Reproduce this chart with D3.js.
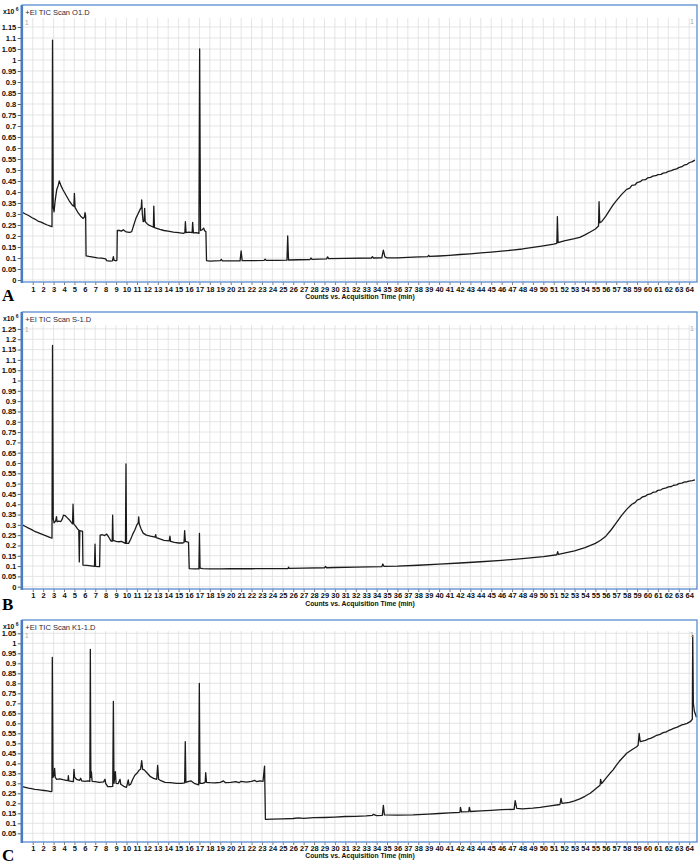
<!DOCTYPE html>
<html><head><meta charset="utf-8">
<script src="https://cdn.jsdelivr.net/npm/d3@7"></script>
<style>
html,body{margin:0;padding:0;background:#fff;}
svg{display:block;}
.tick-lbl{font-family:"Liberation Sans Narrow","Arial Narrow","Liberation Sans",Arial,sans-serif;font-weight:bold;font-size:7.5px;fill:#111;}
.title{font-family:"Liberation Sans",Arial,sans-serif;font-size:7.5px;fill:#2a2a3a;}
.axt{font-family:"Liberation Sans Narrow","Arial Narrow","Liberation Sans",Arial,sans-serif;font-weight:bold;font-size:6.8px;fill:#111;}
.letter{font-family:"Liberation Serif","DejaVu Serif",serif;font-weight:bold;font-size:17px;fill:#000;}
.mult{font-family:"Liberation Sans Narrow","Arial Narrow","Liberation Sans",Arial,sans-serif;font-weight:bold;font-size:6.8px;fill:#111;}
</style>
</head><body>
<svg id="c" width="700" height="867"></svg>
<script>
// ---------- DATA ----------
const titles = ["+EI TIC Scan O1.D", "+EI TIC Scan S-1.D", "+EI TIC Scan K1-1.D"];
const panelLetters = ["A", "B", "C"];
const xAxisTitle = "Counts vs. Acquisition Time (min)";
const xTickLabels = d3.range(1, 65);
const yTicksA = [0,0.05,0.1,0.15,0.2,0.25,0.3,0.35,0.4,0.45,0.5,0.55,0.6,0.65,0.7,0.75,0.8,0.85,0.9,0.95,1,1.05,1.1,1.15];
const yTicksB = [0,0.05,0.1,0.15,0.2,0.25,0.3,0.35,0.4,0.45,0.5,0.55,0.6,0.65,0.7,0.75,0.8,0.85,0.9,0.95,1,1.05,1.1,1.15,1.2,1.25];
const yTicksC = [0.05,0.1,0.15,0.2,0.25,0.3,0.35,0.4,0.45,0.5,0.55,0.6,0.65,0.7,0.75,0.8,0.85,0.9,0.95,1,1.05];

// [time (min), counts x10^6]
const seriesA = [[0,0.308],[0.3,0.300],[0.6,0.293],[0.9,0.284],[1.2,0.277],[1.5,0.268],[1.8,0.263],[2.1,0.256],[2.4,0.250],[2.7,0.245],[2.85,0.242],
[2.9,1.09],[2.97,0.33],[3.05,0.31],[3.15,0.36],[3.3,0.41],[3.45,0.43],[3.55,0.45],[3.7,0.43],[3.9,0.41],[4.2,0.385],[4.5,0.36],[4.8,0.34],[4.95,0.335],[5.0,0.394],[5.06,0.33],[5.3,0.31],[5.6,0.29],[5.85,0.28],[5.95,0.285],[6.02,0.306],[6.08,0.29],[6.12,0.11],[6.4,0.107],[6.8,0.104],[7.2,0.101],[7.6,0.099],[8.0,0.096],[8.1,0.088],[8.4,0.086],[8.65,0.087],[8.74,0.106],[8.8,0.09],[9.0,0.087],[9.08,0.09],
[9.12,0.225],[9.3,0.226],[9.5,0.222],[9.7,0.228],[9.9,0.22],[10.1,0.218],[10.3,0.216],[10.5,0.22],[10.7,0.25],[10.9,0.28],[11.1,0.30],[11.3,0.32],[11.42,0.33],[11.46,0.364],[11.52,0.30],[11.6,0.265],[11.7,0.27],[11.74,0.326],[11.8,0.265],[12.0,0.255],[12.2,0.248],[12.5,0.242],[12.58,0.24],[12.62,0.336],[12.68,0.238],[12.9,0.235],[13.2,0.23],[13.6,0.225],[14.0,0.222],[14.5,0.218],[15.0,0.215],[15.45,0.212],[15.6,0.215],[15.65,0.265],[15.72,0.215],[16.0,0.218],[16.3,0.215],[16.35,0.262],[16.42,0.214],[16.7,0.215],[16.95,0.212],
[17.02,1.05],[17.1,0.225],[17.25,0.228],[17.4,0.236],[17.5,0.224],[17.62,0.22],[17.68,0.088],[18.0,0.086],[18.5,0.087],[19.0,0.088],[19.1,0.094],[19.2,0.087],[20,0.087],[20.9,0.087],[21.0,0.132],[21.1,0.088],[22,0.088],[23.2,0.089],[23.3,0.095],[23.4,0.089],[24.5,0.089],[25.4,0.09],[25.47,0.20],[25.55,0.091],[26.5,0.092],[27.6,0.093],[27.7,0.10],[27.8,0.094],[29.2,0.096],[29.3,0.105],[29.4,0.097],[31,0.098],[33.5,0.1],[33.6,0.106],[33.7,0.1],[34.5,0.101],[34.65,0.136],[34.8,0.105],[35,0.101],[36,0.101],[37.5,0.104],[38.9,0.106],[39.0,0.112],[39.1,0.107],[40,0.109],[41,0.112],[42,0.116],[43,0.119],[44,0.123],[45,0.127],[46,0.131],[47,0.136],[48,0.141],[49,0.148],[50,0.155],[51.0,0.163],[51.3,0.167],[51.35,0.288],[51.42,0.170],[52,0.178],[53,0.188],[53.5,0.194],[54,0.205],[54.5,0.218],[55.0,0.232],[55.3,0.245],[55.35,0.356],[55.42,0.26],[55.6,0.265],[56.0,0.29],[56.4,0.32],[56.7,0.341],[57.0,0.36],[57.5,0.388],[58.0,0.412],[58.3,0.418],[58.5,0.43],[58.8,0.432],[59.0,0.443],[59.3,0.447],[59.5,0.455],[59.8,0.456],[60,0.464],[60.3,0.466],[60.5,0.472],[60.8,0.474],[61,0.479],[61.3,0.48],[61.5,0.486],[61.8,0.488],[62,0.494],[62.3,0.497],[62.5,0.502],[62.8,0.505],[63,0.511],[63.3,0.515],[63.5,0.522],[63.8,0.526],[64,0.533],[64.3,0.538],[64.55,0.545]];

const seriesB = [[0,0.300],[0.3,0.292],[0.6,0.284],[0.9,0.277],[1.2,0.268],[1.5,0.262],[1.8,0.256],[2.1,0.250],[2.4,0.244],[2.7,0.238],[2.85,0.236],
[2.9,1.17],[2.97,0.33],[3.05,0.31],[3.2,0.318],[3.28,0.34],[3.34,0.315],[3.5,0.318],[3.7,0.316],[3.85,0.33],[3.95,0.347],[4.1,0.345],[4.3,0.335],[4.5,0.325],[4.7,0.312],[4.82,0.305],[4.87,0.40],[4.93,0.305],[5.1,0.295],[5.3,0.28],[5.42,0.275],[5.47,0.12],[5.52,0.272],[5.7,0.27],[5.78,0.27],[5.82,0.105],[6.2,0.103],[6.6,0.101],[6.93,0.099],[6.98,0.206],[7.03,0.099],[7.3,0.097],[7.42,0.097],
[7.47,0.25],[7.7,0.252],[7.9,0.248],[8.1,0.255],[8.3,0.24],[8.5,0.222],[8.63,0.22],[8.67,0.347],[8.72,0.225],[9.0,0.22],[9.3,0.218],[9.5,0.22],[9.7,0.215],[9.9,0.21],[9.95,0.595],[10.0,0.21],[10.2,0.21],[10.4,0.23],[10.6,0.255],[10.8,0.275],[11.0,0.30],[11.13,0.31],[11.17,0.338],[11.22,0.305],[11.4,0.28],[11.6,0.26],[11.9,0.25],[12.3,0.245],[12.75,0.24],[12.8,0.252],[12.85,0.238],[13.2,0.232],[13.6,0.225],[14.1,0.222],[14.17,0.245],[14.23,0.22],[14.6,0.215],[15.0,0.212],[15.4,0.212],[15.52,0.214],[15.58,0.272],[15.65,0.22],[15.8,0.218],[15.95,0.215],
[16.02,0.088],[16.5,0.086],[16.95,0.086],[17.0,0.258],[17.06,0.09],[17.3,0.088],[18,0.086],[19,0.086],[20,0.087],[21,0.087],[22,0.087],[23,0.088],[24,0.088],[25.5,0.088],[25.55,0.095],[25.6,0.089],[27,0.09],[29,0.092],[29.1,0.098],[29.2,0.092],[30,0.093],[32,0.095],[34.5,0.097],[34.6,0.11],[34.7,0.099],[36,0.1],[38,0.104],[40,0.109],[42,0.115],[44,0.121],[46,0.128],[48,0.136],[50,0.146],[51.3,0.155],[51.38,0.17],[51.45,0.157],[52,0.163],[53,0.174],[54,0.19],[55,0.21],[55.5,0.225],[56,0.245],[56.5,0.275],[57,0.31],[57.5,0.345],[58,0.375],[58.5,0.40],[58.8,0.408],[59,0.42],[59.3,0.426],[59.5,0.435],[59.8,0.439],[60,0.447],[60.3,0.45],[60.5,0.457],[60.8,0.46],[61,0.467],[61.3,0.47],[61.5,0.476],[61.8,0.479],[62,0.484],[62.3,0.486],[62.5,0.492],[62.8,0.494],[63,0.50],[63.3,0.502],[63.5,0.507],[63.8,0.509],[64,0.512],[64.3,0.514],[64.55,0.518]];

const seriesC = [[0,0.283],[0.3,0.28],[0.6,0.276],[0.9,0.273],[1.2,0.27],[1.5,0.268],[1.8,0.266],[2.1,0.264],[2.4,0.262],[2.75,0.258],[2.84,0.26],
[2.88,0.93],[2.95,0.33],[3.05,0.34],[3.1,0.375],[3.16,0.33],[3.3,0.32],[3.6,0.322],[3.9,0.318],[4.2,0.315],[4.38,0.314],[4.42,0.338],[4.47,0.312],[4.7,0.31],[4.9,0.308],[4.96,0.37],[5.02,0.33],[5.2,0.32],[5.5,0.315],[5.6,0.325],[5.7,0.312],[6.0,0.31],[6.3,0.312],[6.48,0.31],[6.53,0.97],[6.58,0.33],[6.63,0.358],[6.7,0.31],[7.0,0.308],[7.4,0.305],[7.8,0.307],[7.94,0.32],[8.0,0.3],[8.2,0.283],[8.5,0.283],[8.68,0.285],[8.74,0.71],[8.8,0.30],[8.93,0.358],[9.0,0.3],[9.2,0.298],[9.38,0.32],[9.45,0.295],[9.8,0.283],[10.0,0.28],[10.17,0.317],[10.25,0.29],[10.4,0.295],[10.6,0.32],[10.8,0.34],[11.0,0.35],[11.2,0.365],[11.35,0.37],[11.46,0.413],[11.55,0.37],[11.7,0.367],[12.0,0.35],[12.3,0.333],[12.6,0.325],[12.9,0.32],[12.99,0.39],[13.08,0.32],[13.3,0.313],[13.7,0.305],[14.2,0.303],[14.8,0.30],[15.3,0.30],[15.58,0.302],[15.64,0.508],[15.7,0.305],[15.9,0.308],[16.2,0.312],[16.5,0.3],[16.93,0.292],[16.99,0.80],[17.05,0.30],[17.3,0.30],[17.55,0.305],[17.6,0.353],[17.68,0.305],[18,0.303],[18.5,0.302],[19,0.305],[19.3,0.312],[19.5,0.303],[20,0.305],[20.5,0.308],[20.8,0.303],[21.0,0.31],[21.5,0.306],[22,0.31],[22.3,0.315],[22.5,0.308],[22.8,0.312],[23.1,0.31],
[23.25,0.386],[23.33,0.12],[24,0.121],[25,0.122],[26,0.124],[26.5,0.127],[27,0.125],[28,0.128],[29,0.129],[30,0.131],[31,0.134],[32,0.135],[33,0.137],[33.6,0.14],[33.7,0.145],[34,0.138],[34.55,0.14],[34.65,0.19],[34.75,0.142],[36,0.141],[37.5,0.142],[39,0.146],[40,0.149],[41,0.152],[42,0.155],[42.05,0.18],[42.15,0.157],[42.85,0.158],[42.9,0.18],[43,0.159],[44,0.162],[45,0.165],[46,0.168],[47.2,0.17],[47.3,0.213],[47.45,0.175],[48,0.172],[49,0.176],[49.7,0.18],[50.5,0.186],[51.6,0.194],[51.7,0.225],[51.8,0.2],[52.5,0.205],[53,0.212],[53.5,0.222],[54,0.235],[54.5,0.25],[54.8,0.263],[55.2,0.28],[55.45,0.29],[55.5,0.32],[55.6,0.298],[56.0,0.325],[56.4,0.35],[56.7,0.367],[57.0,0.39],[57.3,0.41],[57.7,0.433],[58.0,0.45],[58.5,0.468],[58.96,0.483],[59.1,0.49],[59.2,0.55],[59.3,0.508],[59.8,0.515],[60.1,0.522],[60.3,0.525],[60.6,0.532],[60.8,0.538],[61.2,0.545],[61.5,0.553],[61.8,0.557],[62,0.563],[62.3,0.57],[62.5,0.575],[62.8,0.58],[63,0.585],[63.3,0.592],[63.5,0.595],[63.8,0.6],[64.1,0.608],[64.3,0.62],[64.34,1.04],[64.4,0.70],[64.5,0.66],[64.7,0.63]];

// ---------- LAYOUT ----------
const X0 = 22.3, X1 = 697, XMAX = (697 - 22.3) / 10.42;
const panels = [
  {data: seriesA, ticks: yTicksA, frameTop: 5, plotTop: 18, plotBottom: 282, y0: 280, pxPerUnit: 220,
   tickBase: 292, axtBase: 299, letterBase: 300.5},
  {data: seriesB, ticks: yTicksB, frameTop: 312, plotTop: 325, plotBottom: 589, y0: 586.7, pxPerUnit: 206.2,
   tickBase: 598, axtBase: 605.5, letterBase: 610},
  {data: seriesC, ticks: yTicksC, frameTop: 620, plotTop: 631, plotBottom: 842, y0: 843.3, pxPerUnit: 200,
   tickBase: 851, axtBase: 858, letterBase: 861}
];

const svg = d3.select("#c");
const x = d3.scaleLinear().domain([0, XMAX]).range([X0, X1]);
const blue = "#5a8ccf";
const fmt = d => String(+d.toFixed(2));

panels.forEach((p, i) => {
  const g = svg.append("g");
  const y = d3.scaleLinear().domain([0, 1]).range([p.y0, p.y0 - p.pxPerUnit]);
  const clipId = "clip" + i;
  svg.append("clipPath").attr("id", clipId).append("rect")
    .attr("x", X0).attr("y", p.plotTop).attr("width", X1 - X0).attr("height", p.plotBottom - p.plotTop);

  // grid
  g.append("g").selectAll("line").data(xTickLabels).join("line")
    .attr("x1", d => x(d)).attr("x2", d => x(d)).attr("y1", p.plotTop).attr("y2", p.plotBottom)
    .attr("stroke", "#dedede").attr("stroke-width", 0.8);
  g.append("g").selectAll("line").data(p.ticks).join("line")
    .attr("x1", X0).attr("x2", X1).attr("y1", d => y(d)).attr("y2", d => y(d))
    .attr("stroke", "#dedede").attr("stroke-width", 0.8);

  // trace
  const line = d3.line().x(d => x(d[0])).y(d => y(d[1]));
  g.append("path").datum(p.data).attr("d", line).attr("clip-path", `url(#${clipId})`)
    .attr("fill", "none").attr("stroke", "#1b1b1b").attr("stroke-width", 1.3).attr("stroke-linejoin", "round");

  // frame
  g.append("rect").attr("x", X0).attr("y", p.frameTop).attr("width", X1 - X0).attr("height", p.plotBottom - p.frameTop)
    .attr("fill", "none").attr("stroke", blue).attr("stroke-width", 1.3);
  g.append("line").attr("x1", X0 - 0.5).attr("x2", X0 - 0.5).attr("y1", p.frameTop).attr("y2", p.plotBottom + 1)
    .attr("stroke", "#4a7cc4").attr("stroke-width", 2.6);

  // title
  g.append("text").attr("class", "title").attr("x", X0 + 3).attr("y", p.frameTop + 10).text(titles[i]);
  // ruler marks
  g.append("text").attr("x", X0 + 2.5).attr("y", p.plotTop + 7).attr("font-family", "Liberation Sans, Arial").attr("font-size", 7).attr("fill", "#aaa").text("1");
  g.append("text").attr("x", X1 - 7).attr("y", p.plotTop + 6).attr("font-family", "Liberation Sans, Arial").attr("font-size", 7).attr("fill", "#aaa").text("1");

  // x10^6
  const mult = g.append("text").attr("class", "mult").attr("x", 3).attr("y", p.frameTop + 8.5);
  mult.append("tspan").text("x10");
  mult.append("tspan").attr("dy", -2.5).attr("font-size", 5).text(" 6");

  // y axis
  const yAxis = d3.axisLeft(y).tickValues(p.ticks).tickFormat(fmt).tickSize(3).tickPadding(1.5);
  const ya = g.append("g").attr("transform", `translate(${X0 - 1.5},0)`).call(yAxis);
  ya.select(".domain").remove();
  ya.selectAll("line").attr("stroke", "#333").attr("stroke-width", 0.8);
  ya.selectAll("text").attr("class", "tick-lbl").attr("font-size", null).attr("font-family", null);

  // x axis
  const xAxis = d3.axisBottom(x).tickValues(xTickLabels).tickFormat(d => d).tickSize(2.5).tickPadding(1);
  const xa = g.append("g").attr("transform", `translate(0,${p.plotBottom + 0.5})`).call(xAxis);
  xa.select(".domain").remove();
  xa.selectAll("line").attr("stroke", "#444").attr("stroke-width", 0.7);
  xa.selectAll("text").attr("class", "tick-lbl").attr("font-size", null).attr("font-family", null)
    .attr("dy", null).attr("y", p.tickBase - p.plotBottom - 0.5);

  g.append("text").attr("class", "axt").attr("x", 360).attr("y", p.axtBase).attr("text-anchor", "middle").text(xAxisTitle);
  g.append("text").attr("class", "letter").attr("x", 2).attr("y", p.letterBase).text(panelLetters[i]);
});
</script>
</body></html>
